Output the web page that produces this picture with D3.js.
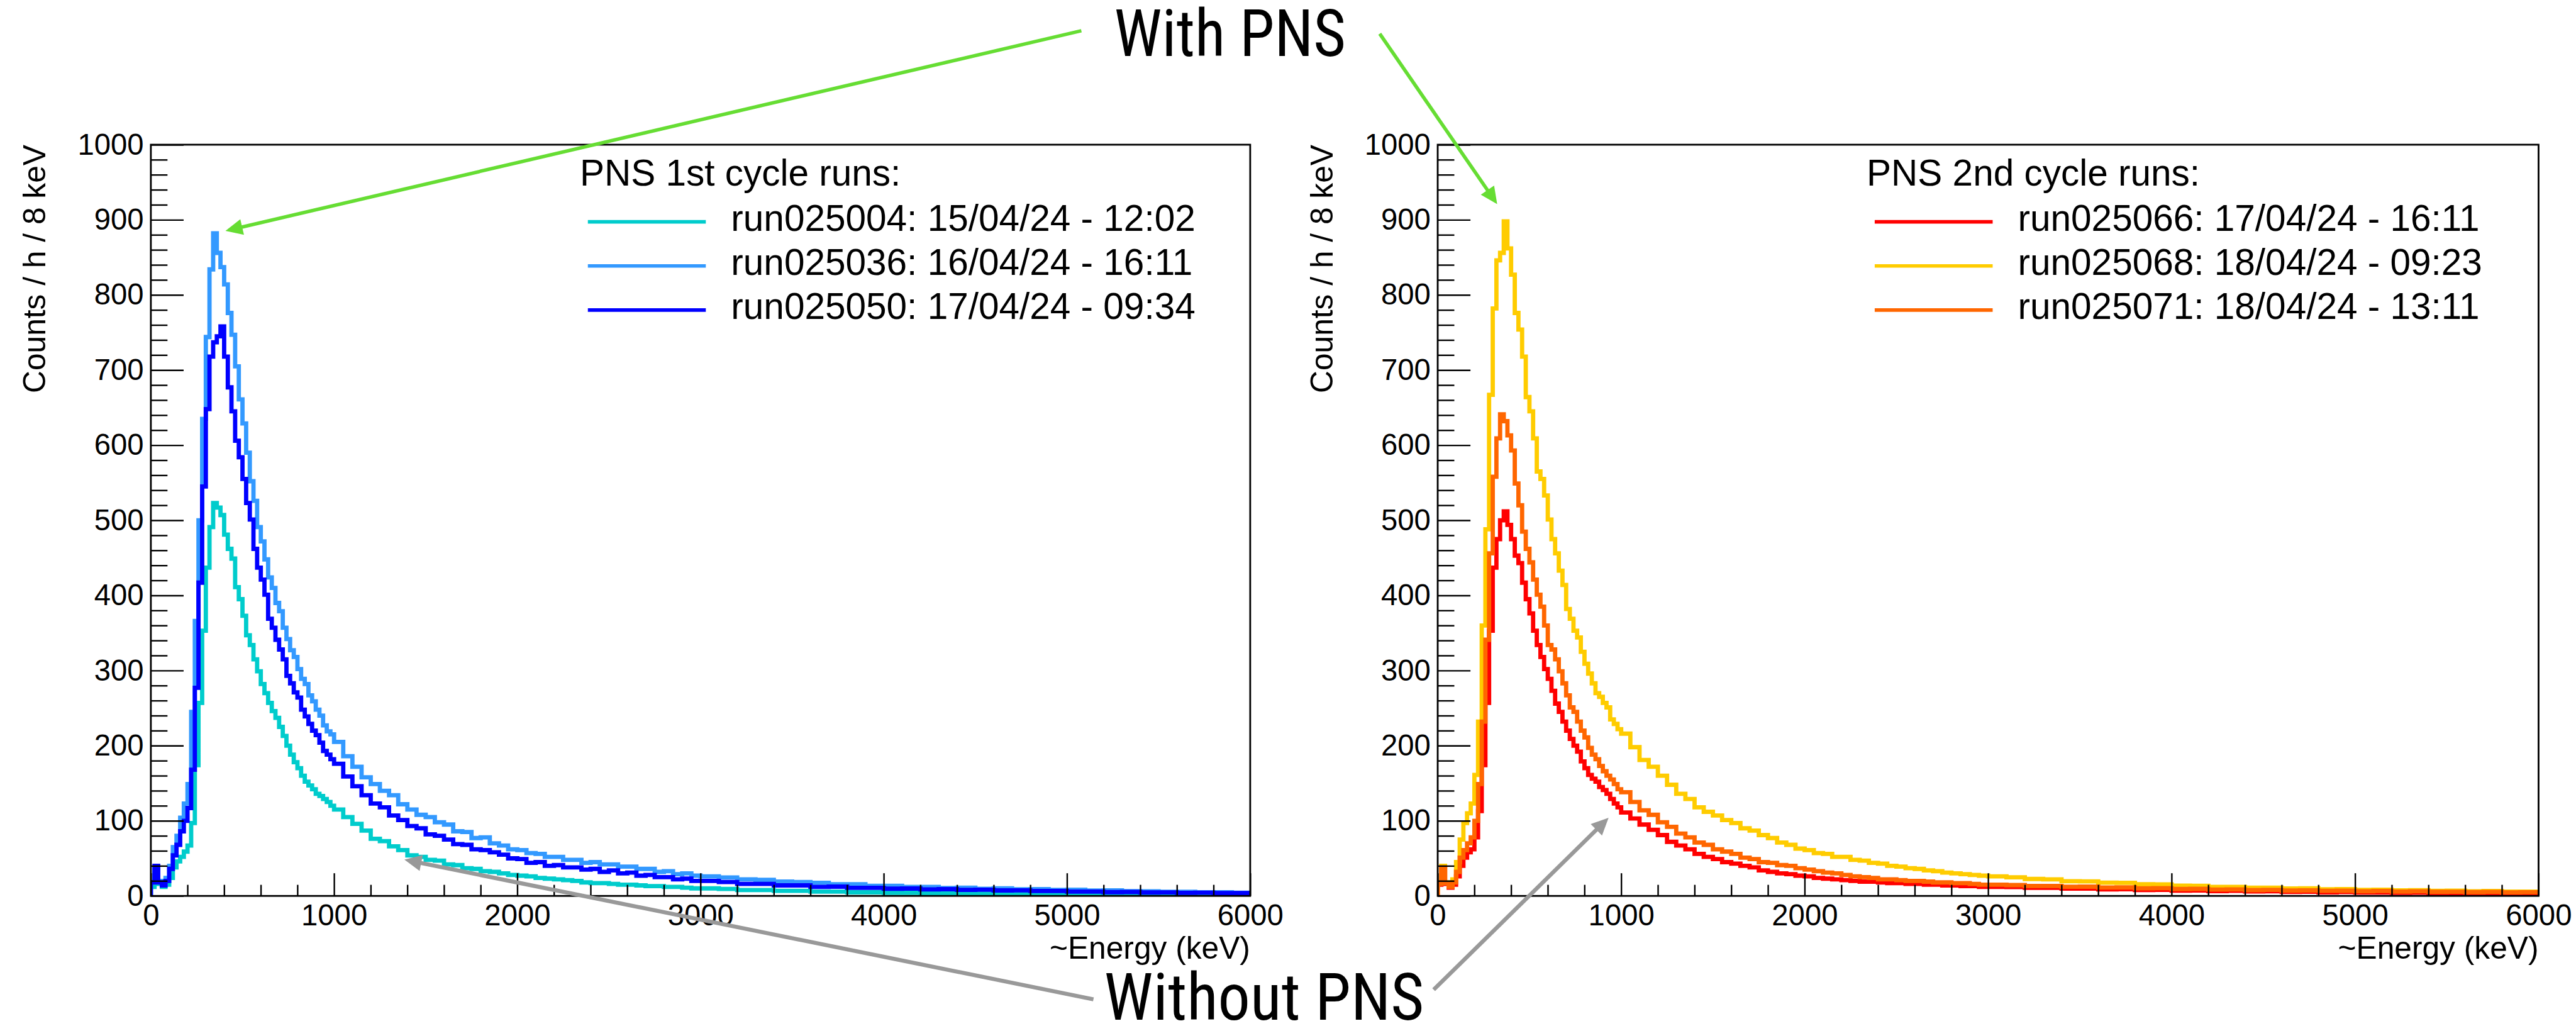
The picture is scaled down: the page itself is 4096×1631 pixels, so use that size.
<!DOCTYPE html>
<html><head><meta charset="utf-8">
<script src="https://cdn.jsdelivr.net/npm/d3@7"></script>
<style>html,body{margin:0;padding:0;background:#fff;overflow:hidden}</style>
</head><body>
<script>
// ---------------- DATA ----------------
// variable-width energy bins (keV): [from, to, width]
const binSegments = [[0, 1000, 20], [1000, 3000, 50], [3000, 6000, 100]];

// Counts / h / 8 keV, one value per bin (50 + 40 + 30 bins)
const run025004 = [
  12,30,16,12,15, 24,38,46,52,59, 67,97,174,257,353, 437,491,523,517,507,
  481,462,449,411,395, 373,347,334,315,299, 282,270,257,246,237, 225,213,200,188,178,
  170,160,152,147,142, 136,133,129,125,120,
  115,105,96,87,76,73,66,61,54,52, 48,47,42,41,37,36,33,32,30,28,
  27,26,24,23,22,21,20,18,17,17, 16,15,15,14,13,13,12,12,11,10,
  10,9.3,7.8,7.8,6.7,6.8,5.7,5.8,4.8,4.8, 4,4,3.4,3.4,2.9,2.9,2.4,2.4,2,2.1,
  1.8,1.9,1.6,1.7,1.4,1.5,1.2,1.3,1.1,1.2];
const run025036 = [
  18,38,20,16,24, 40,65,80,104,123, 149,245,366,500,635, 744,834,882,856,837,
  814,776,747,705,661, 629,590,552,526,491, 472,448,424,410,390, 379,357,342,327,318,
  302,289,282,267,259, 248,240,227,219,215,
  205,186,172,158,149,140,134,122,115,108, 105,98,95,86,85,77,78,70,67,62,
  61,57,56,52,52,48,48,44,45,42, 42,39,39,36,36,32,33,29,30,27,
  26,24.5,22,21.5,19,18.5,17.5,15.5,15.5,13.5, 13.5,12,12,10.5,11,9.5,10,8.8,9,8,
  8.2,7.2,7.3,6.3,6.2,5.4,5.6,4.8,4.9,4.3];
const run025050 = [
  18,40,18,14,20, 36,54,68,86,100, 117,168,277,417,545, 648,718,737,745,758,
  718,677,645,606,584, 555,523,501,462,437, 421,401,369,357,341, 328,315,293,283,271,
  264,248,239,229,220, 214,204,193,188,182,
  176,159,146,134,123,118,107,101,93,90, 82,80,75,69,68,62,61,58,55,50,
  49,44,45,40,41,38,38,35,36,32, 34,30,31,27,28,25,25,22,23,20,
  20,18.5,16,16,14,14,12,12.3,10.7,10.8, 9.6,9.8,8.7,9,8,8.2,7.3,7.4,6.6,6.6,
  5.8,5.7,5,5.2,4.6,4.7,4.1,4.3,3.8,3.9];
const run025066 = [
  15,36,16,11,15, 26,40,51,58,62, 78,113,174,257,353, 437,475,500,512,494,
  475,453,443,417,395, 376,353,334,318,302, 289,273,256,245,232, 220,209,200,192,179,
  170,161,156,152,145, 141,136,129,123,118,
  111,103,95,88,81,72,67,62,56,52, 49,45,43,40,38,34,32,30,29,27,
  26,24,23,22,21,20,19,19,18,17, 17,16,16,15,15,14,14,13,13,12,
  12,11.8,10.7,10.8,9.7,9.8,8.7,8.9,7.9,8.1, 7.1,7.3,6.4,6.7,5.9,6.2,5.3,5.6,4.8,5.1,
  4.4,4.6,4,4.3,3.6,3.9,3.2,3.5,2.9,3];
const run025068 = [
  18,40,18,14,22, 45,75,97,110,123, 161,232,360,488,667, 782,846,856,898,862,
  827,776,754,718,664, 645,609,565,555,533, 501,475,456,433,414, 382,369,353,344,325,
  309,296,283,270,265, 257,251,235,229,222,
  216,198,181,172,160,148,136,129,118,112, 107,101,97,90,87,81,77,71,68,63,
  61,57,56,52,52,48,47,44,43,40, 39,37,36,34,33,31,30,29,28,27,
  26,24.8,22.6,22,19.6,19.4,17.6,17.4,15.6,15.4, 13.7,13.4,12,12,10.9,11,9.9,10,8.9,9.1,
  8.1,8.3,7.3,7.6,6.7,7,6.1,6.5,5.7,5.8];
const run025071 = [
  16,38,17,12,18, 32,51,61,70,78, 100,149,232,341,456, 558,609,641,632,613,
  593,549,520,485,462, 444,421,401,385,360, 334,328,315,299,283, 267,251,245,232,220,
  211,197,188,182,173, 166,160,155,149,142,
  138,125,114,108,98,92,83,78,71,68, 62,59,56,51,49,45,44,41,40,37,
  35,33,31,30,28,26,25,24,22,22, 21,20,20,19,18,18,17,17,16,15,
  15,14.4,13.2,13.3,12.2,12.3,11.2,11.3,10.2,10.3, 9.2,9.4,8.4,8.6,7.7,8,7.1,7.3,6.7,6.9,
  6.2,6.5,5.8,6.1,5.4,5.6,5,5.3,4.7,4.9];

const xMajorTicks = [0, 1000, 2000, 3000, 4000, 5000, 6000];
const yMajorTicks = [0, 100, 200, 300, 400, 500, 600, 700, 800, 900, 1000];
const xTitle = "~Energy (keV)";
const yTitle = "Counts / h / 8 keV";

const leftLegendTitle = "PNS 1st cycle runs:";
const leftLabels = ["run025004: 15/04/24 - 12:02", "run025036: 16/04/24 - 16:11", "run025050: 17/04/24 - 09:34"];
const leftColors = ["#00cccc", "#3399ff", "#0000ff"];
const rightLegendTitle = "PNS 2nd cycle runs:";
const rightLabels = ["run025066: 17/04/24 - 16:11", "run025068: 18/04/24 - 09:23", "run025071: 18/04/24 - 13:11"];
const rightColors = ["#ff0000", "#ffcc00", "#ff6600"];
const annotWith = "With PNS";
const annotWithout = "Without PNS";

// ---------------- DRAW ----------------
const edges = [];
binSegments.forEach(([a, b, w]) => { for (let e = a; e < b; e += w) edges.push(e); });
edges.push(6000);

const W = 4096, H = 1631;
const FONT = "'Liberation Sans', Arial, Helvetica, sans-serif";
const NARROW = "'Liberation Sans Narrow', 'Arial Narrow', 'Roboto Condensed', 'Liberation Sans', sans-serif";
const svg = d3.select("body").append("svg")
  .attr("width", W).attr("height", H)
  .attr("viewBox", "0 0 5110 2035");
svg.append("rect").attr("width", 5110).attr("height", 2035).attr("fill", "#fff");

const Y0 = 1777, Y1 = 287;
const fmt = d3.format("d");

function panel(id, x0, x1, seriesList, colors, legTitle, labels) {
  const x = d3.scaleLinear().domain([0, 6000]).range([x0, x1]);
  const y = d3.scaleLinear().domain([0, 1000]).range([Y0, Y1]);
  const g = svg.append("g");

  g.append("clipPath").attr("id", "clip" + id)
    .append("rect").attr("x", x0).attr("y", Y1).attr("width", x1 - x0).attr("height", Y0 - Y1);

  const line = d3.line().x(d => x(d[0])).y(d => y(d[1])).curve(d3.curveStepAfter);
  seriesList.forEach((vals, k) => {
    const pts = [[0, 0]].concat(edges.map((e, i) => [e, vals[Math.min(i, vals.length - 1)]]));
    g.append("path").attr("d", line(pts)).attr("fill", "none")
      .attr("stroke", colors[k]).attr("stroke-width", 8.5)
      .attr("stroke-linejoin", "miter").attr("clip-path", `url(#clip${id})`);
  });

  // minor ticks
  const xMinor = d3.range(0, 6001, 200).filter(v => v % 1000 !== 0);
  const yMinor = d3.range(0, 1001, 20).filter(v => v % 100 !== 0);
  const gxm = g.append("g").attr("transform", `translate(0,${Y0})`)
    .call(d3.axisBottom(x).tickValues(xMinor).tickSizeInner(-22).tickSizeOuter(0).tickFormat(""));
  const gym = g.append("g").attr("transform", `translate(${x0},0)`)
    .call(d3.axisLeft(y).tickValues(yMinor).tickSizeInner(-33).tickSizeOuter(0).tickFormat(""));
  const gx = g.append("g").attr("transform", `translate(0,${Y0})`)
    .call(d3.axisBottom(x).tickValues(xMajorTicks).tickFormat(fmt).tickSizeInner(-45).tickSizeOuter(0).tickPadding(17));
  const gy = g.append("g").attr("transform", `translate(${x0},0)`)
    .call(d3.axisLeft(y).tickValues(yMajorTicks).tickFormat(fmt).tickSizeInner(-65).tickSizeOuter(0).tickPadding(14));
  [gxm, gym, gx, gy].forEach(a => {
    a.select(".domain").remove();
    a.selectAll("line").attr("stroke", "#000").attr("stroke-width", 3);
    a.selectAll("text").attr("font-family", FONT).attr("font-size", 59).attr("fill", "#000");
  });

  // frame
  g.append("rect").attr("x", x0).attr("y", Y1).attr("width", x1 - x0).attr("height", Y0 - Y1)
    .attr("fill", "none").attr("stroke", "#000").attr("stroke-width", 3.5);

  // axis titles
  g.append("text").attr("x", x1).attr("y", 1902).attr("text-anchor", "end")
    .attr("font-family", FONT).attr("font-size", 62).text(xTitle);
  g.append("text").attr("transform", `translate(${x0 - 209},${Y1}) rotate(-90)`)
    .attr("text-anchor", "end").attr("font-family", FONT).attr("font-size", 62).text(yTitle);

  // legend
  g.append("text").attr("x", x0 + 851).attr("y", 368)
    .attr("font-family", FONT).attr("font-size", 73).text(legTitle);
  labels.forEach((lab, i) => {
    const by = 458 + i * 87.5;
    g.append("line").attr("x1", x0 + 867).attr("x2", x0 + 1101)
      .attr("y1", by - 18).attr("y2", by - 18)
      .attr("stroke", colors[i]).attr("stroke-width", 7);
    g.append("text").attr("x", x0 + 1151).attr("y", by)
      .attr("font-family", FONT).attr("font-size", 73).text(lab);
  });
}

panel("L", 299, 2480, [run025004, run025036, run025050], leftColors, leftLegendTitle, leftLabels);
panel("R", 2852, 5036, [run025066, run025068, run025071], rightColors, rightLegendTitle, rightLabels);

// ---------------- ANNOTATIONS ----------------
function arrow(xs, ys, xt, yt, color, lw) {
  const dx = xt - xs, dy = yt - ys, L = Math.hypot(dx, dy);
  const ux = dx / L, uy = dy / L, px = -uy, py = ux;
  const hl = 34, hw = 16;
  const bx = xt - ux * hl, by = yt - uy * hl;
  svg.append("line").attr("x1", xs).attr("y1", ys).attr("x2", bx + ux * 2).attr("y2", by + uy * 2)
    .attr("stroke", color).attr("stroke-width", lw);
  svg.append("path")
    .attr("d", `M${xt},${yt}L${bx + px * hw},${by + py * hw}L${bx - px * hw},${by - py * hw}Z`)
    .attr("fill", color);
}
arrow(2145, 61, 447, 458, "#66dd33", 7);
arrow(2737, 67, 2970, 405, "#66dd33", 7);
arrow(2169, 1982, 802, 1705, "#999999", 8);
arrow(2844, 1963, 3191, 1622, "#999999", 8);

svg.append("text").attr("x", 2210).attr("y", 111)
  .attr("font-family", NARROW).attr("font-size", 130)
  .attr("textLength", 460).attr("lengthAdjust", "spacingAndGlyphs").text(annotWith);
svg.append("text").attr("x", 2190).attr("y", 2023)
  .attr("font-family", NARROW).attr("font-size", 130)
  .attr("textLength", 635).attr("lengthAdjust", "spacingAndGlyphs").text(annotWithout);
</script>
</body></html>
